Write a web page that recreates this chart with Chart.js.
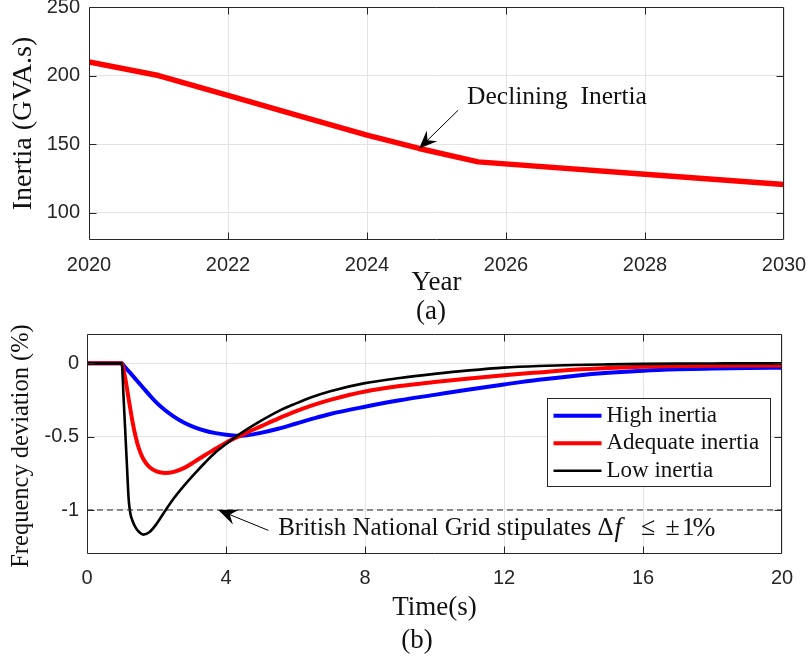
<!DOCTYPE html>
<html>
<head>
<meta charset="utf-8">
<script src="https://cdn.jsdelivr.net/npm/chart.js@4.4.1/dist/chart.umd.min.js"></script>
<style>
  html, body { margin:0; padding:0; background:#fff; width:809px; height:660px; overflow:hidden; }
  canvas { position:absolute; left:0; display:block; }
</style>
</head>
<body>
<canvas id="c1" width="809" height="330" style="top:0"></canvas>
<canvas id="c2" width="809" height="360" style="top:300px"></canvas>
<script>
// ---------- data: panel (a) ----------
const years = [2020, 2021, 2022, 2023, 2024, 2024.75, 2025.6, 2028, 2030];
const inertiaGVAs = [210, 200, 185.5, 171, 156.5, 146.8, 137, 128, 120.5];
const yearTicks = [2020, 2022, 2024, 2026, 2028, 2030];
const inertiaTicks = [100, 150, 200, 250];

// ---------- data: panel (b) ----------
const timeS = [0, 1, 1.05, 1.1, 1.15, 1.2, 1.25, 1.3, 1.4, 1.5, 1.62, 1.8, 2, 2.25, 2.5, 2.8, 3.1, 3.4, 3.7, 4,
               4.3, 4.6, 5, 5.5, 6, 6.5, 7, 8, 9, 10, 11, 12, 13, 14, 15, 16, 17, 18, 19, 20];
const highInertia = [0, 0, -0.013, -0.027, -0.04, -0.054, -0.067, -0.081, -0.108, -0.135, -0.168, -0.217,
                     -0.268, -0.32, -0.363, -0.405, -0.437, -0.46, -0.476, -0.487, -0.494, -0.49, -0.474,
                     -0.446, -0.412, -0.377, -0.345, -0.296, -0.252, -0.215, -0.178, -0.144, -0.112, -0.086,
                     -0.065, -0.05, -0.041, -0.036, -0.032, -0.03];
const adequateInertia = [0, 0, -0.04, -0.1, -0.17, -0.245, -0.315, -0.385, -0.5, -0.585, -0.652, -0.708,
                         -0.737, -0.748, -0.74, -0.713, -0.67, -0.625, -0.583, -0.541, -0.505, -0.472, -0.43,
                         -0.377, -0.328, -0.285, -0.249, -0.192, -0.155, -0.128, -0.103, -0.081, -0.062,
                         -0.044, -0.032, -0.024, -0.019, -0.016, -0.015, -0.014];
const lowInertia = [0, 0, -0.22, -0.46, -0.7, -0.93, -1.025, -1.068, -1.12, -1.15, -1.168, -1.15, -1.095,
                    -1.005, -0.92, -0.832, -0.752, -0.676, -0.606, -0.55, -0.497, -0.45, -0.392, -0.327,
                    -0.275, -0.228, -0.19, -0.135, -0.1, -0.072, -0.048, -0.029, -0.018, -0.011, -0.007,
                    -0.004, -0.002, -0.001, 0, 0];
const seriesNames = ['High inertia', 'Adequate inertia', 'Low inertia'];
const seriesColors = ['#0000ff', '#ff0000', '#000000'];
const limitValue = -1;
const timeTicks = [0, 4, 8, 12, 16, 20];
const devTicks = [-1, -0.5, 0];
const devTickLabels = ['-1', '-0.5', '0'];

// ---------- styling ----------
const SANS = '"Liberation Sans", Arial, Helvetica, sans-serif';
const SERIF = '"Liberation Serif", "Times New Roman", serif';
const AXC = '#262626';
const GRID = '#e3e3e3';
const TXT = '#111111';

function setTicks(vals) { return s => { s.ticks = vals.map(v => ({ value: v })); }; }

function drawArrow(ctx, x0, y0, x1, y1, len, half) {
  const a = Math.atan2(y1 - y0, x1 - x0);
  const c = Math.cos(a), s = Math.sin(a);
  ctx.beginPath();
  ctx.moveTo(x0, y0);
  ctx.lineTo(x1 - c * len * 0.6, y1 - s * len * 0.6);
  ctx.stroke();
  const bx = x1 - c * len, by = y1 - s * len;
  const nx = -s, ny = c;
  const mx = x1 - c * len * 0.65, my = y1 - s * len * 0.65;
  ctx.beginPath();
  ctx.moveTo(x1, y1);
  ctx.lineTo(bx + nx * half, by + ny * half);
  ctx.lineTo(mx, my);
  ctx.lineTo(bx - nx * half, by - ny * half);
  ctx.closePath();
  ctx.fill();
}

const framePlugin = {
  id: 'matlabFrame',
  afterDatasetsDraw(chart) {
    const { ctx, chartArea: a, scales: { x, y } } = chart;
    const L = Math.round(a.left) + 0.5, R = Math.round(a.right) - 0.5;
    const T = Math.round(a.top) + 0.5, B = Math.round(a.bottom) - 0.5;
    const TL = 7;
    ctx.save();
    ctx.strokeStyle = AXC;
    ctx.lineWidth = 1;
    ctx.beginPath();
    ctx.rect(L, T, R - L, B - T);
    x.ticks.forEach(t => {
      const px = Math.round(x.getPixelForValue(t.value)) + 0.5;
      if (px <= L + 1 || px >= R - 1) return;
      ctx.moveTo(px, B); ctx.lineTo(px, B - TL);
      ctx.moveTo(px, T); ctx.lineTo(px, T + TL);
    });
    y.ticks.forEach(t => {
      const py = Math.round(y.getPixelForValue(t.value)) + 0.5;
      if (py <= T + 1 || py >= B - 1) return;
      ctx.moveTo(L, py); ctx.lineTo(L + TL, py);
      ctx.moveTo(R, py); ctx.lineTo(R - TL, py);
    });
    ctx.stroke();
    ctx.restore();
  }
};

// ---------- panel (a) ----------
const annotA = { text: 'Declining  Inertia', textAt: [2025.44, 184.1], tail: [2025.31, 174.6], tip: [2024.75, 146.8] };

const labelsA = {
  id: 'labelsA',
  afterDraw(chart) {
    const { ctx, scales: { x, y } } = chart;
    ctx.save();
    ctx.strokeStyle = '#000'; ctx.fillStyle = '#000'; ctx.lineWidth = 1;
    drawArrow(ctx, x.getPixelForValue(annotA.tail[0]), y.getPixelForValue(annotA.tail[1]),
              x.getPixelForValue(annotA.tip[0]), y.getPixelForValue(annotA.tip[1]), 18, 7.5);
    ctx.fillStyle = TXT;
    ctx.font = '25.5px ' + SERIF;
    ctx.textBaseline = 'middle';
    ctx.textAlign = 'left';
    ctx.fillText(annotA.text, x.getPixelForValue(annotA.textAt[0]), y.getPixelForValue(annotA.textAt[1]));
    ctx.font = '27px ' + SERIF;
    ctx.textAlign = 'center';
    ctx.fillText('(a)', 431, 312);
    ctx.restore();
  }
};

new Chart(document.getElementById('c1'), {
  type: 'line',
  data: {
    datasets: [{
      label: 'Inertia',
      data: years.map((v, i) => ({ x: v, y: inertiaGVAs[i] })),
      borderColor: '#ff0000',
      borderWidth: 5.5,
      pointRadius: 0,
      tension: 0,
      fill: false,
      borderJoinStyle: 'round'
    }]
  },
  options: {
    responsive: false, animation: false, devicePixelRatio: 1,
    layout: { padding: { left: 0, top: 7, right: 25, bottom: 0 } },
    plugins: { legend: { display: false }, tooltip: { enabled: false } },
    scales: {
      x: {
        type: 'linear', min: 2020, max: 2030,
        afterBuildTicks: setTicks(yearTicks),
        afterFit: s => { s.height = 90; s.paddingLeft = 0; s.paddingRight = 0; },
        grid: { color: GRID, drawTicks: false },
        border: { display: false },
        ticks: { padding: 13, color: AXC, font: { family: SANS, size: 20 }, maxRotation: 0, autoSkip: false,
                 callback: v => String(v) },
        title: { display: true, text: 'Year', color: TXT, font: { family: SERIF, size: 27, lineHeight: 1 },
                 padding: { top: 0, bottom: 34 } }
      },
      y: {
        type: 'linear', min: 80, max: 250,
        afterBuildTicks: setTicks(inertiaTicks),
        afterFit: s => { s.width = 89; s.paddingTop = 0; s.paddingBottom = 0; },
        grid: { color: GRID, drawTicks: false },
        border: { display: false },
        ticks: { padding: 9, color: AXC, font: { family: SANS, size: 20 }, callback: v => String(v) },
        title: { display: true, text: 'Inertia (GVA.s)', color: TXT, font: { family: SERIF, size: 28, lineHeight: 1 },
                 padding: { top: 10, bottom: 0 } }
      }
    }
  },
  plugins: [framePlugin, labelsA]
});

// ---------- panel (b) ----------
const annotB = { tail: [5.22, -1.139], tip: [3.78, -1.0], textAt: [5.5, -1.127] };
const legendBox = { width: 223, height: 88, rightInset: 12, topInset: 64, lineStart: 6, lineEnd: 54, textStart: 59, rows: [17.3, 44.8, 72.3] };
const yTitleB = 'Frequency deviation (%)';

const labelsB = {
  id: 'labelsB',
  afterDraw(chart) {
    const { ctx, chartArea: a, scales: { x, y } } = chart;
    ctx.save();
    // y-axis title (drawn without width compression)
    ctx.fillStyle = TXT;
    ctx.font = '24.5px ' + SERIF;
    ctx.textAlign = 'center';
    ctx.textBaseline = 'middle';
    ctx.translate(22, (a.top + a.bottom) / 2 + 2);
    ctx.rotate(-Math.PI / 2);
    ctx.fillText(yTitleB, 0, 0);
    ctx.setTransform(1, 0, 0, 1, 0, 0);
    // arrow
    ctx.strokeStyle = '#000'; ctx.fillStyle = '#000'; ctx.lineWidth = 1;
    drawArrow(ctx, x.getPixelForValue(annotB.tail[0]), y.getPixelForValue(annotB.tail[1]),
              x.getPixelForValue(annotB.tip[0]), y.getPixelForValue(annotB.tip[1]), 19, 8);
    // annotation text with math part
    ctx.fillStyle = TXT;
    ctx.textBaseline = 'middle';
    ctx.textAlign = 'left';
    const fs = 25;
    const tx = x.getPixelForValue(annotB.textAt[0]);
    const ty = y.getPixelForValue(annotB.textAt[1]);
    ctx.font = fs + 'px ' + SERIF;
    const lead = 'British National Grid stipulates ';
    ctx.fillText(lead, tx, ty);
    const m0 = tx + ctx.measureText(lead).width;
    const math = [
      ['\u0394', '', 0, 1], ['f', 'italic ', 0.68, 1.06], ['\u2264', '', 1.74, 1.04],
      ['\u00B1', '', 2.72, 1.04], ['1', '', 3.38, 1], ['%', '', 3.8, 1.1]
    ];
    math.forEach(([t, st, off, sc]) => {
      ctx.font = st + (fs * sc) + 'px ' + SERIF;
      ctx.fillText(t, m0 + off * fs, ty);
    });
    // legend
    const bx = Math.round(a.right - legendBox.rightInset - legendBox.width) + 0.5;
    const by = Math.round(a.top + legendBox.topInset) + 0.5;
    ctx.fillStyle = '#fff';
    ctx.fillRect(bx, by, legendBox.width, legendBox.height);
    ctx.strokeStyle = AXC; ctx.lineWidth = 1;
    ctx.strokeRect(bx, by, legendBox.width, legendBox.height);
    ctx.font = '23px ' + SERIF;
    chart.data.datasets.slice(0, 3).forEach((ds, i) => {
      const ry = by + legendBox.rows[i];
      ctx.strokeStyle = ds.borderColor;
      ctx.lineWidth = ds.borderWidth;
      ctx.beginPath();
      ctx.moveTo(bx + legendBox.lineStart, ry);
      ctx.lineTo(bx + legendBox.lineEnd, ry);
      ctx.stroke();
      ctx.fillStyle = TXT;
      ctx.fillText(ds.label, bx + legendBox.textStart, ry);
    });
    // sub-label
    ctx.font = '27px ' + SERIF;
    ctx.textAlign = 'center';
    ctx.fillText('(b)', 417, 341);
    ctx.restore();
  }
};

const seriesValues = [highInertia, adequateInertia, lowInertia];
const seriesWidths = [4, 4, 2.6];
const curveSets = seriesValues.map((vals, i) => ({
  label: seriesNames[i],
  data: timeS.map((t, k) => ({ x: t, y: vals[k] })),
  borderColor: seriesColors[i],
  borderWidth: seriesWidths[i],
  pointRadius: 0,
  cubicInterpolationMode: 'monotone',
  fill: false,
  order: 3 - i
}));
curveSets.push({
  label: 'limit',
  data: [{ x: timeS[0], y: limitValue }, { x: timeS[timeS.length - 1], y: limitValue }],
  borderColor: '#222222',
  borderWidth: 1,
  borderDash: [6, 4],
  pointRadius: 0,
  fill: false,
  order: 0
});

new Chart(document.getElementById('c2'), {
  type: 'line',
  data: { datasets: curveSets },
  options: {
    responsive: false, animation: false, devicePixelRatio: 1,
    layout: { padding: { left: 0, top: 34, right: 27, bottom: 0 } },
    plugins: { legend: { display: false }, tooltip: { enabled: false } },
    scales: {
      x: {
        type: 'linear', min: 0, max: 20,
        afterBuildTicks: setTicks(timeTicks),
        afterFit: s => { s.height = 106; s.paddingLeft = 0; s.paddingRight = 0; },
        grid: { color: GRID, drawTicks: false },
        border: { display: false },
        ticks: { padding: 12, color: AXC, font: { family: SANS, size: 20 }, maxRotation: 0, autoSkip: false,
                 callback: v => String(v) },
        title: { display: true, text: 'Time(s)', color: TXT, font: { family: SERIF, size: 27, lineHeight: 1 },
                 padding: { top: 0, bottom: 39 } }
      },
      y: {
        type: 'linear', min: -1.3, max: 0.2,
        afterBuildTicks: setTicks(devTicks),
        afterFit: s => { s.width = 87; s.paddingTop = 0; s.paddingBottom = 0; },
        grid: { color: GRID, drawTicks: false },
        border: { display: false },
        ticks: { padding: 8, color: AXC, font: { family: SANS, size: 20 },
                 callback: (v, i) => devTickLabels[i] }
      }
    }
  },
  plugins: [framePlugin, labelsB]
});
</script>
</body>
</html>
